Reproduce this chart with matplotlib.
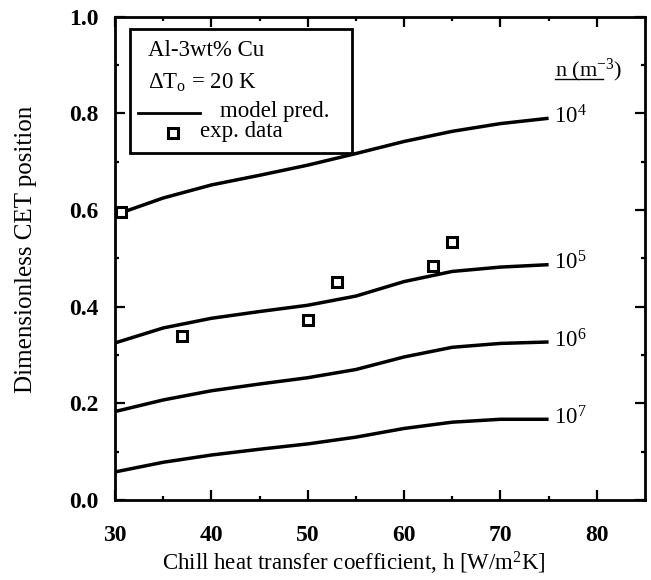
import numpy as np
import matplotlib
matplotlib.use('Agg')
import matplotlib.pyplot as plt
from matplotlib.patches import Rectangle
from matplotlib.lines import Line2D

plt.rcParams['font.family'] = ['Liberation Serif', 'DejaVu Serif']
plt.rcParams['mathtext.fontset'] = 'custom'
plt.rcParams['mathtext.rm'] = 'Liberation Serif'
plt.rcParams['mathtext.it'] = 'Liberation Serif:italic'

# model curves
h = [30, 35, 40, 45, 50, 55, 60, 65, 70, 75]
cet_1e4 = [0.590, 0.625, 0.652, 0.672, 0.693, 0.717, 0.742, 0.763, 0.779, 0.790]
cet_1e5 = [0.325, 0.356, 0.376, 0.390, 0.403, 0.422, 0.452, 0.473, 0.482, 0.487]
cet_1e6 = [0.183, 0.207, 0.226, 0.240, 0.253, 0.270, 0.296, 0.316, 0.324, 0.327]
cet_1e7 = [0.058, 0.078, 0.093, 0.105, 0.116, 0.130, 0.148, 0.161, 0.167, 0.167]
curve_labels = ['10$^4$', '10$^5$', '10$^6$', '10$^7$']

# experimental points
h_exp = [30.6, 37, 50, 53, 63, 65]
cet_exp = [0.595, 0.340, 0.372, 0.452, 0.484, 0.534]

fig = plt.figure(figsize=(6.51, 5.80), dpi=100)
ax = fig.add_axes([0.1767, 0.138, 0.814, 0.833])

for y, lab in zip([cet_1e4, cet_1e5, cet_1e6, cet_1e7], curve_labels):
    ax.plot(h, y, color='black', lw=2.5, solid_capstyle='butt')
    ax.annotate(lab, xy=(h[-1], y[-1]), xytext=(4, 1), textcoords='offset points',
                va='center', ha='left', fontsize=16.5)

ax.plot(h_exp, cet_exp, linestyle='none', marker='s', ms=7, mfc='white',
        mec='black', mew=2.2)

ax.set_xlim(30, 85)
ax.set_ylim(0, 1.0)
ax.set_xticks([30, 40, 50, 60, 70, 80])
ax.set_xticks([35, 45, 55, 65, 75], minor=True)
ax.set_yticks([0.0, 0.2, 0.4, 0.6, 0.8, 1.0])
ax.set_yticks([0.1, 0.3, 0.5, 0.7, 0.9], minor=True)
ax.set_yticklabels(['0.0', '0.2', '0.4', '0.6', '0.8', '1.0'])
ax.tick_params(which='both', direction='in', top=True, right=True, width=1.6)
ax.tick_params(which='major', length=7)
ax.tick_params(which='minor', length=3)
ax.tick_params(axis='x', which='major', pad=18, labelsize=17)
ax.tick_params(axis='y', which='major', pad=12, labelsize=17)
for t in ax.get_xticklabels() + ax.get_yticklabels():
    t.set_fontweight('bold')
for s in ax.spines.values():
    s.set_linewidth(2.0)

ax.set_xlabel('Chill heat transfer coefficient, h [W/m$^2$K]', fontsize=16.5)
ax.set_ylabel('Dimensionless CET position', fontsize=18)
ax.xaxis.set_label_coords(0.45, -0.104)
ax.yaxis.set_label_coords(-0.147, 0.518)

# legend box drawn by hand
ax.add_patch(Rectangle((0.028, 0.718), 0.419, 0.257, transform=ax.transAxes,
                       fill=False, lw=2.0, ec='black', zorder=5))
ax.text(0.062, 0.930, 'Al-3wt% Cu', transform=ax.transAxes, va='center', fontsize=16.5)
ax.text(0.062, 0.863, r'$\Delta$T$_\mathrm{o}$ = 20 K', transform=ax.transAxes,
        va='center', fontsize=16.5)
ax.add_line(Line2D([0.043, 0.160], [0.801, 0.801], transform=ax.transAxes,
                   color='black', lw=2.0))
ax.text(0.198, 0.805, 'model pred.', transform=ax.transAxes, va='center', fontsize=16.5)
ax.add_line(Line2D([0.109], [0.760], transform=ax.transAxes, marker='s', ms=7,
                   mfc='white', mec='black', mew=2.2, ls='none'))
ax.text(0.160, 0.763, 'exp. data', transform=ax.transAxes, va='center', fontsize=16.5)

# n (m^-3) header for curve labels
ax.text(0.830, 0.890, 'n (m$^{-3}$)', transform=ax.transAxes, va='center',
        ha='left', fontsize=16)
ax.add_line(Line2D([0.830, 0.921], [0.872, 0.872], transform=ax.transAxes,
                   color='black', lw=1.0))

fig.savefig('out.png', dpi=100)
